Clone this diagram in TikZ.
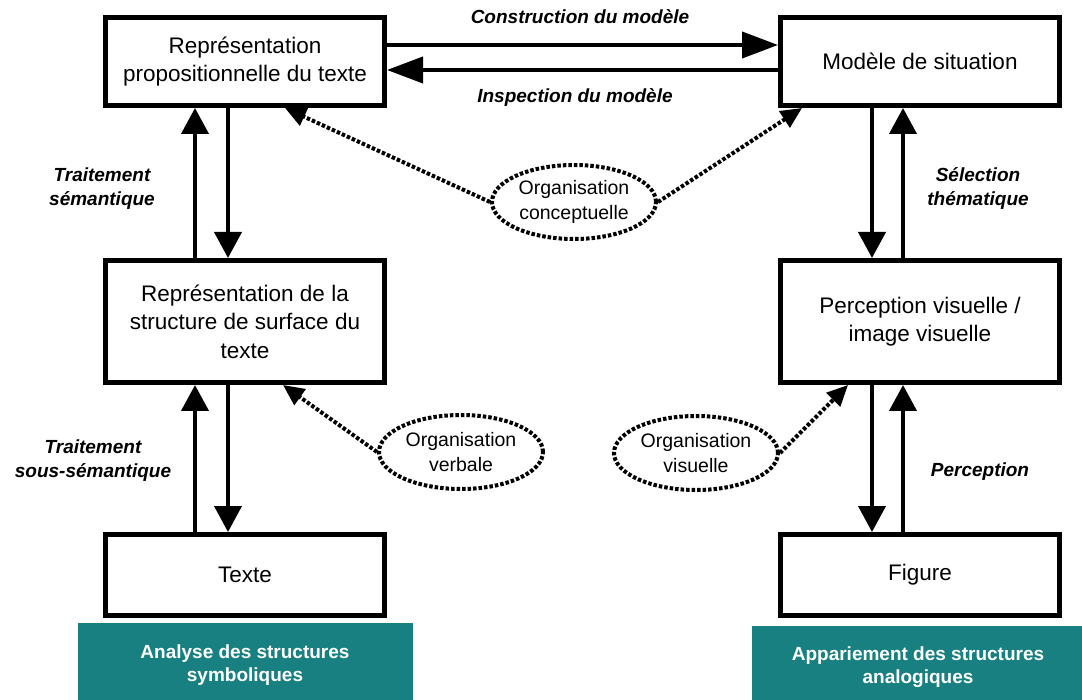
\documentclass[tikz,border=0pt]{standalone}
\usepackage{fontspec}
\setmainfont{Liberation Sans}
\usetikzlibrary{arrows.meta,shapes.geometric,calc}
\definecolor{tealbg}{RGB}{24,128,128}

\begin{document}
\begin{tikzpicture}[x=1pt,y=-1pt,
  box/.style={draw,line width=5pt,minimum width=279pt,minimum height=88pt,
    align=center,inner sep=0pt,font=\fontsize{22.5}{28.5}\selectfont},
  lowbox/.style={box,minimum height=81pt},
  org/.style={ellipse,draw,line width=4pt,dash pattern=on 3.5pt off 2pt,
    minimum width=164pt,minimum height=74pt,inner sep=0pt,align=center,
    font=\fontsize{19.5}{25}\selectfont},
  flow/.style={line width=4pt,-{Triangle[length=26pt,width=27pt]}},
  across/.style={line width=4pt,-{Triangle[length=36pt,width=26pt]}},
  link/.style={line width=4pt,dash pattern=on 3.5pt off 2pt,
    -{Triangle[length=21pt,width=19pt]}},
  lab/.style={align=center,font=\fontsize{19}{24}\selectfont\bfseries\itshape},
  band/.style={fill=tealbg,text=white,align=center,inner sep=0pt,
    font=\fontsize{19}{23.5}\selectfont\bfseries}
]
\useasboundingbox (0,0) rectangle (1082,700);

% teal bands at the foot of each column
\fill[tealbg] (78,623) rectangle (413,700);
\fill[tealbg] (752,626) rectangle (1082,700);
\node[band] (sym) at (245,665) {Analyse des structures\\symboliques};
\node[band] (ana) at (918,667) {Appariement des structures\\analogiques};

% representation boxes
\node[box] (prop) at (245,61.5) {Représentation\\propositionnelle du texte};
\node[box] (sit)  at (920,61.5) {Modèle de situation};
\node[box,minimum height=122pt] (surf) at (245,321.5) {Représentation de la\\structure de surface du\\texte};
\node[box,minimum height=122pt] (vis)  at (920,321.5) {Perception visuelle /\\image visuelle};
\node[lowbox] (txt) at (245,575) {Texte};
\node[lowbox] (fig) at (920,575) {Figure};

% organising processes
\node[org] (oc) at (574,202) {Organisation\\conceptuelle};
\node[org] (ov) at (461,452) {Organisation\\verbale};
\node[org] (oi) at (696,453) {Organisation\\visuelle};

% horizontal exchanges
\draw[across] ([yshift=16.5pt]prop.east) -- ([yshift=16.5pt]sit.west);
\draw[across] ([yshift=-8.5pt]sit.west) -- ([yshift=-8.5pt]prop.east);

% left column
\draw[flow] ([xshift=-50pt]surf.north) -- ([xshift=-50pt]prop.south);
\draw[flow] ([xshift=-17pt]prop.south) -- ([xshift=-17pt]surf.north);
\draw[flow] ([xshift=-50pt]txt.north) -- ([xshift=-50pt]surf.south);
\draw[flow] ([xshift=-17pt]surf.south) -- ([xshift=-17pt]txt.north);

% right column
\draw[flow] ([xshift=-48pt]sit.south) -- ([xshift=-48pt]vis.north);
\draw[flow] ([xshift=-17pt]vis.north) -- ([xshift=-17pt]sit.south);
\draw[flow] ([xshift=-48pt]vis.south) -- ([xshift=-48pt]fig.north);
\draw[flow] ([xshift=-17pt]fig.north) -- ([xshift=-17pt]vis.south);

% dotted influences
\draw[link] (oc.west) -- ([xshift=40pt]prop.south);
\draw[link] (oc.east) -- ([xshift=-118pt]sit.south);
\draw[link] (ov.west) -- ([xshift=38pt]surf.south);
\draw[link] (oi.east) -- ([xshift=-72pt]vis.south);

% process labels
\node[lab] (lc) at (580,17) {Construction du modèle};
\node[lab] (li) at (575,98) {Inspection du modèle};
\node[lab] (ls) at (102,189) {Traitement\\sémantique};
\node[lab] (lt) at (978,189) {Sélection\\thématique};
\node[lab] (lss) at (93,461) {Traitement\\sous-sémantique};
\node[lab] (lp) at (980,472) {Perception};
\end{tikzpicture}
\end{document}
